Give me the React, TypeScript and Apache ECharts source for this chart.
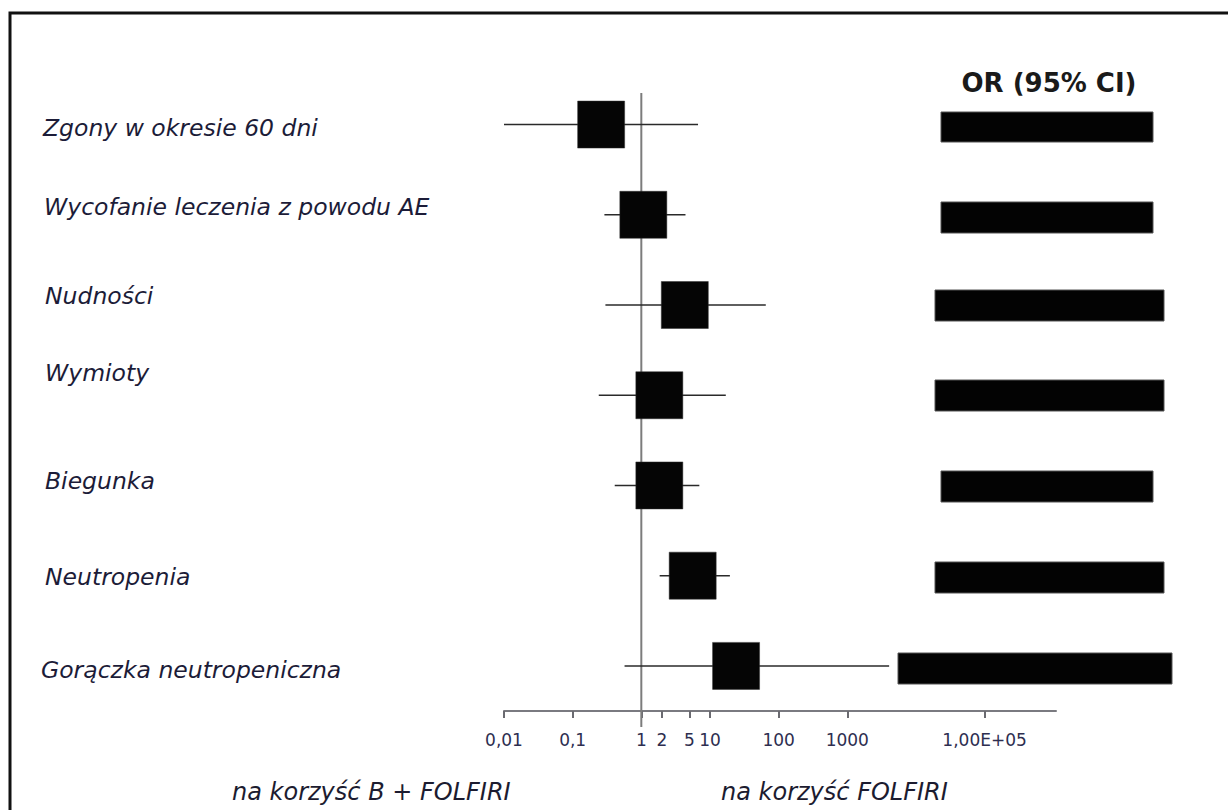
import React, { useEffect, useRef } from "react";
import * as echarts from "echarts";

const categories = [
  "Zgony w okresie 60 dni",
  "Wycofanie leczenia z powodu AE",
  "Nudności",
  "Wymioty",
  "Biegunka",
  "Neutropenia",
  "Gorączka neutropeniczna",
];
const orValues = [0.26, 1.07, 4.3, 1.83, 1.83, 5.6, 24];
const ciLow = [0.01, 0.29, 0.3, 0.24, 0.41, 1.85, 0.57];
const ciHigh = [6.7, 4.4, 65, 17, 7.0, 19.5, 4070];
const tickValues = [0.01, 0.1, 1, 2, 5, 10, 100, 1000, 1e5];
const tickLabels = ["0,01", "0,1", "1", "2", "5", "10", "100", "1000", "1,00E+05"];
const columnTitle = "OR (95% CI)";
const favourLeft = "na korzyść B + FOLFIRI";
const favourRight = "na korzyść FOLFIRI";

// layout (pixels) for text and redaction boxes
const labelPos = [
  { x: 43, y: 128 },
  { x: 44, y: 207 },
  { x: 45, y: 296 },
  { x: 45, y: 373 },
  { x: 45, y: 481 },
  { x: 45, y: 577 },
  { x: 41, y: 670 },
];
const redactBoxes = [
  [941, 112, 212, 30],
  [941, 202, 212, 31],
  [935, 290, 229, 31],
  [935, 380, 229, 31],
  [941, 471, 212, 31],
  [935, 562, 229, 31],
  [898, 653, 274, 31],
];

const FONT = "'DejaVu Sans', Verdana, sans-serif";

export default function App() {
  const ref = useRef<HTMLDivElement>(null);
  useEffect(() => {
    if (!ref.current) return;
    const chart = echarts.init(ref.current, null, { renderer: "svg" });
    const logTicks = tickValues.map((v) => Math.log10(v));
    const labelFor = (v: number) => {
      let best = 0;
      let bd = Infinity;
      logTicks.forEach((t, i) => {
        const d = Math.abs(t - v);
        if (d < bd) {
          bd = d;
          best = i;
        }
      });
      return tickLabels[best];
    };
    const graphic: any[] = [
      {
        type: "rect",
        shape: { x: 10, y: 13, width: 1400, height: 1000 },
        style: { fill: "none", stroke: "#111", lineWidth: 3 },
        z: 100,
      },
      {
        type: "text",
        x: 1049,
        y: 83,
        style: {
          text: columnTitle,
          font: `bold 26px ${FONT}`,
          fill: "#1a1a1a",
          align: "center",
          verticalAlign: "middle",
        },
      },
      {
        type: "text",
        x: 232,
        y: 792,
        style: {
          text: favourLeft,
          font: `italic 24px ${FONT}`,
          fill: "#1c1c30",
          align: "left",
          verticalAlign: "middle",
        },
      },
      {
        type: "text",
        x: 721,
        y: 792,
        style: {
          text: favourRight,
          font: `italic 24px ${FONT}`,
          fill: "#1c1c30",
          align: "left",
          verticalAlign: "middle",
        },
      },
    ];
    categories.forEach((c, i) => {
      graphic.push({
        type: "text",
        x: labelPos[i].x,
        y: labelPos[i].y,
        style: {
          text: c,
          font: `italic 23.5px ${FONT}`,
          fill: "#1c1c38",
          align: "left",
          verticalAlign: "middle",
        },
      });
    });
    redactBoxes.forEach((b) => {
      graphic.push({
        type: "rect",
        shape: { x: b[0], y: b[1], width: b[2], height: b[3] },
        style: { fill: "#030303", stroke: "#555", lineWidth: 1 },
      });
    });

    chart.setOption({
      animation: false,
      backgroundColor: "#ffffff",
      grid: { left: 504, width: 552, top: 93, height: 618 },
      xAxis: {
        type: "value",
        position: "bottom",
        min: -2,
        max: 6.04,
        splitLine: { show: false },
        axisLine: { show: true, onZero: false, lineStyle: { color: "#7a7a80", width: 2 } },
        axisTick: {
          show: true,
          customValues: logTicks,
          length: 7,
          lineStyle: { color: "#6a6a70", width: 2 },
        },
        axisLabel: {
          customValues: logTicks,
          formatter: (v: number) => labelFor(v),
          color: "#2e2e50",
          fontFamily: FONT,
          fontSize: 17,
          margin: 20,
        },
      },
      yAxis: {
        type: "value",
        inverse: true,
        min: -0.35,
        max: 6.5,
        show: false,
      },
      graphic,
      series: [
        {
          type: "custom",
          clip: false,
          z: 1,
          data: [[0]],
          renderItem: (params: any, api: any) => {
            const p1 = api.coord([api.value(0), -0.35]);
            const p2 = api.coord([api.value(0), 6.5]);
            return {
              type: "line",
              shape: { x1: p1[0], y1: p1[1], x2: p2[0], y2: p2[1] + 16 },
              style: { stroke: "#7c7c7c", lineWidth: 2 },
            };
          },
          encode: { x: 0 },
        },
        {
          type: "custom",
          z: 2,
          data: categories.map((c, i) => [
            Math.log10(ciLow[i]),
            Math.log10(ciHigh[i]),
            i,
          ]),
          renderItem: (params: any, api: any) => {
            const p1 = api.coord([api.value(0), api.value(2)]);
            const p2 = api.coord([api.value(1), api.value(2)]);
            return {
              type: "line",
              shape: { x1: p1[0], y1: p1[1], x2: p2[0], y2: p2[1] },
              style: { stroke: "#2a2a2a", lineWidth: 1.5 },
            };
          },
          encode: { x: [0, 1], y: 2 },
        },
        {
          type: "scatter",
          z: 3,
          symbol: "rect",
          symbolSize: 47,
          itemStyle: { color: "#050505", opacity: 1, borderColor: "#333", borderWidth: 0.5 },
          data: categories.map((c, i) => [Math.log10(orValues[i]), i]),
        },
      ],
    });
    return () => chart.dispose();
  }, []);
  return (
    <div
      ref={ref}
      style={{ position: "absolute", left: 0, top: 0, width: 1228, height: 810 }}
    />
  );
}
